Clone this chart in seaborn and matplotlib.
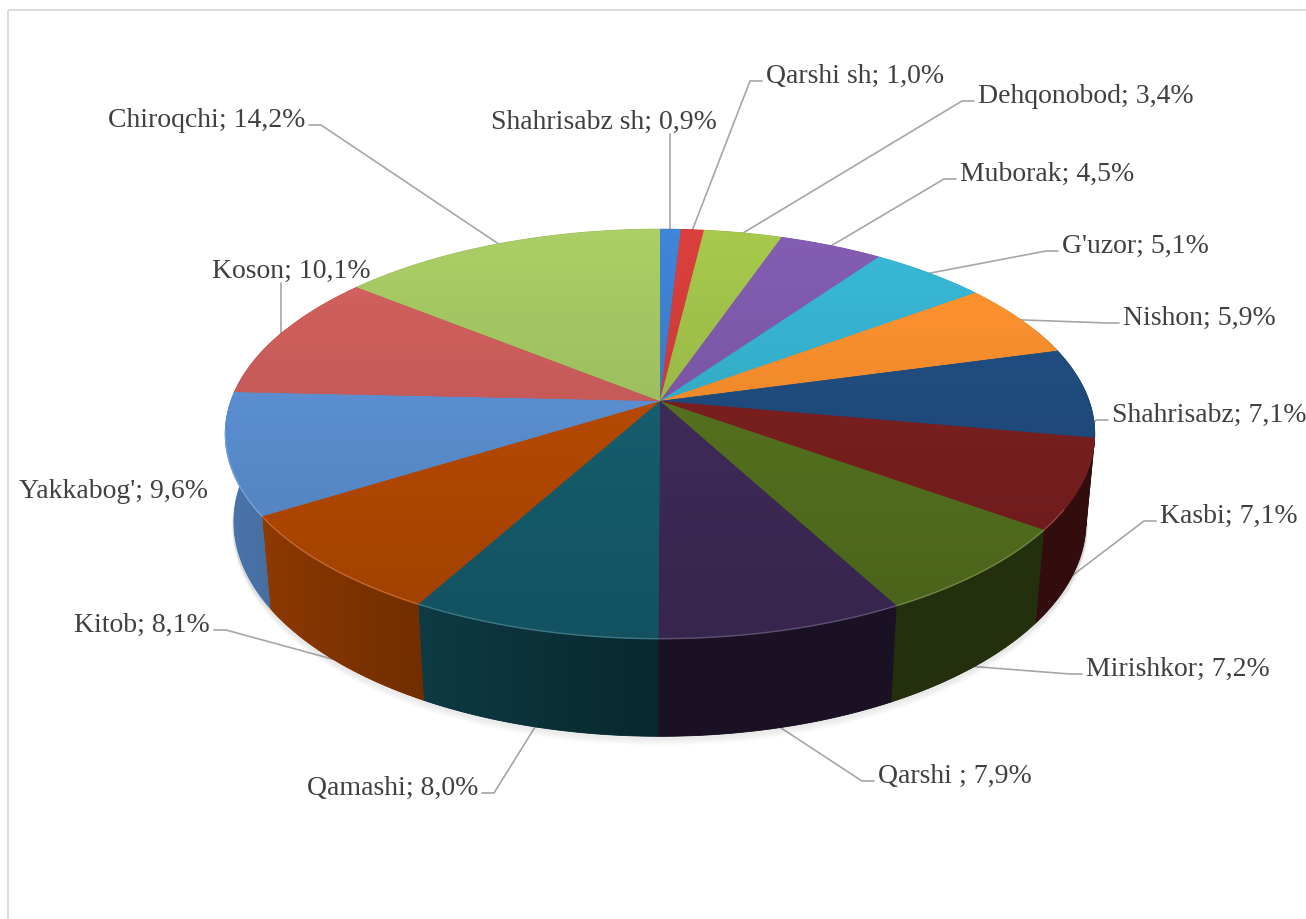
import numpy as np
import matplotlib
matplotlib.use("Agg")
import matplotlib.pyplot as plt
from matplotlib.patches import Polygon
import matplotlib.colors as mcolors
import seaborn as sns

# ---------------- data ----------------
districts = ["Shahrisabz sh", "Qarshi sh", "Dehqonobod", "Muborak", "G'uzor",
             "Nishon", "Shahrisabz", "Kasbi", "Mirishkor", "Qarshi ",
             "Qamashi", "Kitob", "Yakkabog'", "Koson", "Chiroqchi"]
shares = [0.9, 1.0, 3.4, 4.5, 5.1, 5.9, 7.1, 7.1, 7.2, 7.9, 8.0, 8.1, 9.6, 10.1, 14.2]
slice_colors = ["#3B7CC9", "#CC3B39", "#9BBB47", "#7B57A6", "#35ADC9",
                "#F28B2C", "#1F4B7D", "#7A1F1F", "#55711F", "#3F2B58",
                "#165E6E", "#B74A00", "#5B8FD1", "#C75B59", "#9FC05F"]

# ---------------- label layout (pixel positions) ----------------
label_x = [491, 766, 978, 960, 1062, 1123, 1112, 1160, 1086, 878, 478, 210, 208, 212, 305]
label_y = [129, 83, 103, 181, 253, 325, 422, 523, 676, 783, 795, 632, 498, 278, 127]
label_ha = ["left", "left", "left", "left", "left", "left", "left", "left", "left", "left",
            "right", "right", "right", "left", "right"]
leader_kind = ["vert", "tick", "tick", "tick", "tick", "tick", "tick", "tick", "tick", "tick",
               "tick", "tick", "none", "vert", "tick"]

sns.set_theme(style="white")
plt.rcParams['font.family'] = ['Liberation Serif', 'DejaVu Serif']

fig = plt.figure(figsize=(13.06, 9.2), dpi=100)
ax = fig.add_axes([0, 0, 1, 1])
ax.set_xlim(0, 1306)
ax.set_ylim(920, 0)
ax.axis('off')

# chart frame (Excel chart area border)
ax.plot([8, 8], [920, 11], color="#D9D9D9", lw=1.3, zorder=0, solid_capstyle='butt')
ax.plot([8, 1306], [11, 11], color="#D9D9D9", lw=1.3, zorder=0, solid_capstyle='butt')

# ---------------- 3D pie geometry ----------------
CX, CY, R, H = 660.0, 402.0, 429.0, 100.0
ELEV = np.radians(27.7)
DIST = 2360.0


def proj(theta_deg, h=0.0, r=R):
    t = np.radians(theta_deg)
    u = r * np.sin(t)
    v = r * np.cos(t)
    yup = v * np.sin(ELEV) + h * np.cos(ELEV)
    z = DIST + v * np.cos(ELEV) - h * np.sin(ELEV)
    s = DIST / z
    return CX + u * s, CY - yup * s, z


vals = np.array(shares, dtype=float)
bounds = np.concatenate([[0.0], np.cumsum(vals)]) / vals.sum() * 360.0
starts, ends = bounds[:-1], bounds[1:]
rgbs = [np.array(mcolors.to_rgb(c)) for c in sns.color_palette(slice_colors)]


def side_factor(th):
    s = np.sin(np.radians(th))
    return 0.42 + 0.42 * np.maximum(0.0, -s)


# mapping screen x -> angle along the visible front rim (monotonic part)
th_map = np.linspace(99, 261, 400)
x_map = np.array([proj(t, 0)[0] for t in th_map])
x_sorted_idx = np.argsort(x_map)
x_map_s, th_map_s = x_map[x_sorted_idx], th_map[x_sorted_idx]

# soft shadow under the front rim
tt = np.linspace(92, 268, 200)
bx = np.array([proj(t, -H)[0] for t in tt])
by = np.array([proj(t, -H)[1] for t in tt])
for k in range(1, 9):
    ax.plot(bx, by + k, color="0.45", alpha=0.07 * (1 - k / 9.5), lw=2.0, zorder=2)

# side walls (slices reaching the front half; back parts get hidden by the top)
for i in range(len(vals)):
    a0, a1 = max(starts[i], 68.0), min(ends[i], 292.0)
    if a1 <= a0:
        continue
    n = max(3, int(np.ceil((a1 - a0) / 0.5)) + 1)
    th = np.linspace(a0, a1, n)
    top = [proj(t, 0)[:2] for t in th]
    bot = [proj(t, -H)[:2] for t in th[::-1]]
    pts = top + bot
    c = rgbs[i]
    mid_c = np.clip(c * side_factor(0.5 * (a0 + a1)), 0, 1)
    poly = Polygon(pts, closed=True, facecolor=mid_c, edgecolor=mid_c, lw=0.6, zorder=3)
    ax.add_patch(poly)
    xs = [p[0] for p in pts]
    ys_ = [p[1] for p in pts]
    xmin, xmax, ymin, ymax = min(xs) - 2, max(xs) + 2, min(ys_) - 2, max(ys_) + 2
    cols = np.linspace(xmin, xmax, 200)
    thc = np.interp(cols, x_map_s, th_map_s)
    fac = side_factor(thc)
    rows = np.linspace(ymin, ymax, 4)
    img = np.clip(c[None, None, :] * fac[None, :, None] * np.ones((len(rows), 1, 1)), 0, 1)
    im = ax.imshow(img, extent=(xmin, xmax, ymax, ymin), origin='upper', aspect='auto',
                   interpolation='bilinear', zorder=3.5)
    im.set_clip_path(poly)

# top faces with vertical gradient
for i in range(len(vals)):
    a0, a1 = starts[i], ends[i]
    n = max(3, int(np.ceil((a1 - a0) / 0.5)) + 1)
    th = np.linspace(a0, a1, n)
    pts = [(CX, CY)] + [proj(t, 0)[:2] for t in th]
    c = rgbs[i]
    poly = Polygon(pts, closed=True, facecolor=c * 0.97, edgecolor=c * 0.97, lw=0.7, zorder=4)
    ax.add_patch(poly)
    xs = [p[0] for p in pts]
    ys_ = [p[1] for p in pts]
    xmin, xmax, ymin, ymax = min(xs) - 2, max(xs) + 2, min(ys_) - 2, max(ys_) + 2
    ys = np.linspace(ymin, ymax, 80)
    fac = np.interp(ys, [228, 640], [1.08, 0.87])
    img = np.clip(c[None, :] * fac[:, None], 0, 1)[:, None, :]
    im = ax.imshow(img, extent=(xmin, xmax, ymax, ymin), origin='upper', aspect='auto',
                   interpolation='bilinear', zorder=5)
    im.set_clip_path(poly)
    # subtle bevel highlight along the front top rim
    lo, hi = max(a0, 120), min(a1, 262)
    if hi > lo:
        tr = np.linspace(lo, hi, 60)
        rx = [proj(t, 0)[0] for t in tr]
        ry = [proj(t, 0)[1] for t in tr]
        hl = c + (1 - c) * 0.22
        ax.plot(rx, ry, color=hl, lw=1.0, alpha=0.8, zorder=6, solid_capstyle='butt')

ax.set_xlim(0, 1306)
ax.set_ylim(920, 0)

# ---------------- labels and leader lines ----------------
LEAD = "#A6A6A6"
for i, name in enumerate(districts):
    txt = f"{name}; {shares[i]:.1f}%".replace(".", ",")
    x, y, ha = label_x[i], label_y[i], label_ha[i]
    ax.text(x, y, txt, ha=ha, va="baseline", fontsize=20, color="#404040", zorder=10)
    mid = 0.5 * (starts[i] + ends[i])
    cm = np.cos(np.radians(mid))
    if cm > 0.1:
        h = 0.0
    elif cm > -0.1:
        h = -H / 2
    else:
        h = -H
    px, py, _ = proj(mid, h)
    kind = leader_kind[i]
    if kind == "vert":
        ax.plot([px, px], [y + 6, py], color=LEAD, lw=1.2, zorder=1.5)
    elif kind == "tick":
        if ha == "left":
            tx1, tx0 = x - 4, x - 16
        else:
            tx1, tx0 = x + 4, x + 16
        ty = y - 1
        ax.plot([tx1, tx0, px], [ty, ty, py], color=LEAD, lw=1.2, zorder=1.5,
                solid_joinstyle='miter')

fig.savefig("out.png", dpi=100, facecolor="white")
